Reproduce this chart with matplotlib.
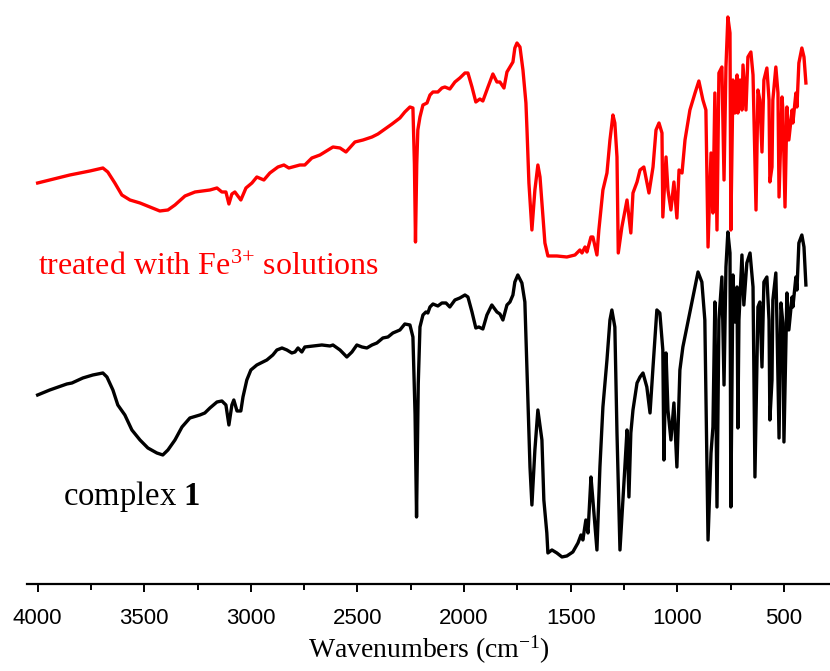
import matplotlib
matplotlib.use("Agg")
import matplotlib.pyplot as plt
from matplotlib import rcParams
from matplotlib.ticker import MultipleLocator

rcParams.update(
    {
        "font.family": "serif",
        "font.serif": ["Liberation Serif", "DejaVu Serif"],
        "mathtext.fontset": "custom",
        "mathtext.rm": "Liberation Serif",
        "mathtext.it": "Liberation Serif:italic",
        "mathtext.bf": "Liberation Serif:bold",
    }
)

# IR spectrum after treatment with Fe3+ (red), wavenumber in cm-1 / offset transmittance (a.u.)
treated_wn = [4000, 3943, 3849, 3755, 3694, 3671, 3638, 3605, 3567, 3520, 3474, 3427, 3389, 3356,
              3309, 3262, 3192, 3159, 3136, 3117, 3103, 3089, 3075, 3061, 3047, 3023, 2995, 2972,
              2939, 2911, 2873, 2845, 2822, 2770, 2747, 2714, 2676, 2615, 2582, 2554, 2512, 2474,
              2432, 2404, 2371, 2338, 2301, 2278, 2254, 2240, 2233, 2228, 2222, 2217, 2207, 2193,
              2174, 2160, 2146, 2123, 2104, 2090, 2067, 2043, 2020, 1996, 1982, 1963, 1945, 1926,
              1912, 1888, 1865, 1846, 1832, 1813, 1799, 1785, 1771, 1762, 1752, 1738, 1724, 1710,
              1705, 1696, 1682, 1668, 1654, 1644, 1630, 1621, 1607, 1565, 1518, 1480, 1457, 1447,
              1433, 1424, 1405, 1396, 1377, 1368, 1349, 1330, 1316, 1302, 1293, 1283, 1277, 1260,
              1236, 1218, 1208, 1189, 1175, 1157, 1133, 1114, 1100, 1086, 1072, 1068, 1053, 1044,
              1030, 1016, 1002, 992, 978, 964, 941, 917, 899, 880, 866, 856, 842, 833, 824, 814,
              805, 791, 781, 772, 763, 753, 749, 739, 730, 720, 716, 706, 697, 692, 678, 669, 655,
              645, 631, 622, 613, 603, 594, 580, 570, 566, 556, 552, 538, 528, 523, 509, 505, 495,
              486, 477, 462, 458, 444, 439, 430, 416, 406, 397]
treated_t = [401, 404, 409, 413, 416, 412, 401, 389, 384, 381, 377, 373, 374, 379,
             388, 392, 394, 396, 392, 392, 380, 390, 392, 388, 384, 396, 401, 407,
             404, 411, 417, 419, 416, 419, 419, 426, 429, 437, 436, 432, 442, 444,
             447, 450, 455, 460, 466, 472, 477, 476, 420, 342, 420, 454, 467, 479,
             481, 489, 492, 492, 496, 497, 495, 502, 506, 511, 511, 497, 482, 485,
             483, 497, 510, 502, 502, 496, 512, 517, 522, 536, 541, 537, 514, 481,
             454, 401, 354, 394, 419, 407, 367, 341, 328, 328, 327, 329, 334, 331,
             337, 332, 347, 347, 329, 354, 394, 411, 444, 469, 461, 427, 331, 357,
             384, 351, 391, 402, 414, 417, 391, 417, 454, 461, 451, 367, 427, 394,
             374, 402, 366, 414, 411, 444, 474, 491, 503, 484, 474, 337, 431, 371, 491, 354,
             511, 517, 404, 517, 567, 551, 354, 504, 471, 509, 471, 504, 474, 519, 474, 527, 532,
             509, 374, 494, 484, 432, 504, 516, 484, 402, 417, 484, 517, 491, 387, 487, 474, 377,
             477, 444, 474, 461, 491, 477, 521, 536, 527, 501]

# IR spectrum of complex 1 (black)
complex_wn = [4000, 3943, 3863, 3839, 3788, 3741, 3694, 3675, 3647, 3624, 3591, 3558, 3520, 3483,
              3441, 3413, 3389, 3356, 3323, 3286, 3239, 3216, 3192, 3159, 3136, 3117, 3103, 3089,
              3080, 3065, 3047, 3037, 3019, 3000, 2972, 2925, 2897, 2878, 2854, 2831, 2808, 2793,
              2779, 2761, 2747, 2709, 2667, 2629, 2615, 2582, 2550, 2526, 2503, 2479, 2456, 2432,
              2409, 2381, 2357, 2334, 2301, 2278, 2254, 2240, 2230, 2223, 2215, 2207, 2193, 2179,
              2170, 2160, 2146, 2123, 2104, 2085, 2067, 2043, 2020, 1996, 1982, 1963, 1945, 1931,
              1912, 1893, 1870, 1846, 1832, 1818, 1799, 1785, 1771, 1762, 1748, 1729, 1715, 1701,
              1691, 1682, 1668, 1654, 1635, 1626, 1612, 1607, 1588, 1565, 1541, 1518, 1490, 1466,
              1452, 1443, 1429, 1419, 1405, 1396, 1377, 1363, 1349, 1330, 1316, 1307, 1293, 1283,
              1269, 1255, 1246, 1236, 1227, 1218, 1208, 1189, 1175, 1161, 1143, 1128, 1114, 1096,
              1082, 1068, 1063, 1053, 1044, 1030, 1016, 1002, 988, 974, 955, 927, 903, 885, 871,
              856, 842, 833, 824, 814, 805, 791, 781, 772, 763, 753, 749, 739, 730, 720, 716, 711,
              697, 688, 674, 659, 645, 636, 622, 613, 603, 594, 580, 570, 566, 556, 552, 538, 533,
              523, 514, 505, 500, 486, 477, 462, 458, 444, 439, 430, 416, 406, 397]
complex_t = [189, 194, 200, 201, 206, 209, 211, 207, 194, 179, 169, 154, 144, 136,
             131, 129, 134, 144, 157, 166, 169, 171, 176, 182, 183, 179, 159, 179,
             184, 173, 173, 187, 204, 214, 219, 224, 229, 234, 236, 234, 231, 232,
             236, 232, 237, 238, 239, 238, 239, 234, 227, 232, 239, 237, 236, 239,
             241, 246, 247, 251, 254, 260, 259, 247, 170, 67, 200, 257, 269, 272,
             271, 277, 280, 278, 281, 281, 277, 284, 286, 289, 287, 272, 256, 257,
             255, 269, 279, 272, 270, 264, 279, 282, 289, 302, 309, 301, 282, 184,
             117, 79, 134, 174, 144, 84, 51, 31, 34, 31, 27, 28, 32, 41,
             49, 44, 64, 51, 107, 84, 34, 117, 177, 224, 264, 274, 257, 151,
             34, 84, 117, 154, 87, 151, 174, 201, 207, 211, 197, 171, 217, 274,
             271, 234, 124, 231, 174, 144, 181, 117, 214, 237, 257, 287, 312, 302, 264,
             44, 131, 157, 282, 77, 264, 307, 199, 317, 352, 331, 77, 309, 262, 297, 156, 264,
             329, 279, 321, 331, 297, 107, 277, 282, 217, 302, 307, 264, 164, 204, 284, 311, 264,
             146, 281, 261, 142, 291, 254, 287, 277, 307, 294, 341, 349, 337, 299]

xticks = [4000, 3500, 3000, 2500, 2000, 1500, 1000, 500]
xtick_labels = ["4000", "3500", "3000", "2500", "2000", "1500", "1000", "500"]

fig = plt.figure(figsize=(8.3, 6.71), dpi=100)
ax = fig.add_axes([0.0325, 0.1297, 0.9675, 0.8703])

ax.plot(complex_wn, complex_t, color="black", lw=2.4, solid_joinstyle="round")
ax.plot(treated_wn, treated_t, color="#ff0000", lw=2.4, solid_joinstyle="round")

ax.set_xlim(4050, 284)
ax.set_ylim(0, 584)

for side in ["left", "right", "top"]:
    ax.spines[side].set_visible(False)
ax.spines["bottom"].set_linewidth(1.6)

ax.set_yticks([])
ax.set_xticks(xticks)
ax.set_xticklabels(xtick_labels, fontsize=16, fontfamily="Liberation Sans")
ax.xaxis.set_minor_locator(MultipleLocator(250))
ax.tick_params(axis="x", which="major", direction="out", length=6, width=1.4, pad=11)
ax.tick_params(axis="x", which="minor", direction="out", length=4, width=1.4)

ax.set_xlabel(r"Wavenumbers (cm$^{-1}$)", fontsize=20, labelpad=4)

ax.text(4000, 309, r"treated with Fe$^{3{+}}$ solutions", color="#ff0000",
        fontsize=23, ha="left", va="baseline")
ax.text(3881, 79, r"complex $\mathbf{1}$", color="black",
        fontsize=23.5, ha="left", va="baseline")

fig.savefig("out.png", dpi=100)
